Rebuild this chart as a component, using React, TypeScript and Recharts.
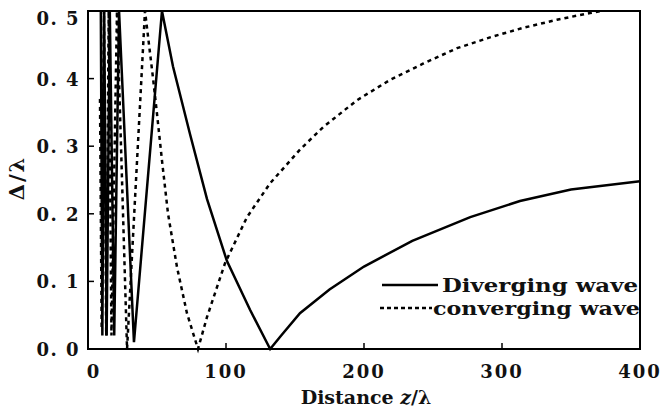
import { LineChart, Line, XAxis, YAxis, ReferenceArea, Legend } from 'recharts';

// diverging wave (solid)
const divZ = [9.3, 10.4, 11.7, 13.5, 15.8, 19.0, 22.5, 33.3, 53.6, 61.6, 73.9, 86.2, 100.7, 117.4, 132, 140, 153.6, 175, 200, 235, 277, 313, 350, 400];
const divD = [0.5, 0.02, 0.5, 0.02, 0.5, 0.02, 0.5, 0.01, 0.5, 0.418, 0.318, 0.222, 0.13, 0.058, 0, 0.02, 0.053, 0.088, 0.122, 0.16, 0.195, 0.219, 0.236, 0.248];

// converging wave (dashed)
const conZ = [8.7, 9.9, 11.6, 13.2, 15.0, 17.0, 21.0, 28.3, 41.3, 47.1, 50, 53.6, 58, 64.5, 71.7, 79.7, 86.2, 99.3, 115.2, 131.9, 153.6, 170.3, 194.9, 218.8, 242.7, 267.4, 291.3, 315.2, 339.8, 363.7, 372.4];
const conD = [0.37, 0.03, 0.5, 0.02, 0.5, 0.02, 0.5, 0, 0.5, 0.401, 0.348, 0.279, 0.2, 0.121, 0.053, 0, 0.047, 0.127, 0.195, 0.245, 0.295, 0.328, 0.368, 0.398, 0.422, 0.445, 0.461, 0.475, 0.487, 0.497, 0.5];

const xTicks = [0, 100, 200, 300, 400];
const yTicks = [0, 0.1, 0.2, 0.3, 0.4, 0.5];

const diverging = divZ.map((z, i) => ({ z, d: divD[i] }));
const converging = conZ.map((z, i) => ({ z, d: conD[i] }));

const font = 'DejaVu Serif';

const XTick = ({ x, payload }: any) => (
  <g>
    {payload.value > 0 && payload.value < 400 && <line x1={x} x2={x} y1={349} y2={343} stroke="#000" strokeWidth={1.5} />}
    <text x={x + (payload.value === 0 ? 6 : 0)} y={378} textAnchor="middle" fontFamily={font} fontWeight="bold" fontSize={18} letterSpacing={2} fill="#111">
      {payload.value}
    </text>
  </g>
);

const YTick = ({ y, payload }: any) => (
  <g>
    {payload.value > 0 && payload.value < 0.5 && <line x1={88} x2={94} y1={y} y2={y} stroke="#000" strokeWidth={1.5} />}
    <text x={80} y={y + 7 + (payload.value === 0.5 ? 7 : 0)} textAnchor="end" fontFamily={font} fontWeight="bold" fontSize={18} letterSpacing={1.5} fill="#111">
      {payload.value.toFixed(1).replace('.', '. ')}
    </text>
  </g>
);

const LegendBox = () => (
  <svg width={262} height={60} style={{ display: 'block', overflow: 'hidden' }}>
    <line x1={4} x2={60} y1={17} y2={17} stroke="#000" strokeWidth={2.5} />
    <text x={64} y={24} fontFamily={font} fontWeight="bold" fontSize={19} textLength={196} lengthAdjust="spacingAndGlyphs" fill="#111">Diverging wave</text>
    <line x1={2} x2={54} y1={40} y2={40} stroke="#000" strokeWidth={2.5} strokeDasharray="4 3" />
    <text x={55} y={47} fontFamily={font} fontWeight="bold" fontSize={19} textLength={207} lengthAdjust="spacingAndGlyphs" fill="#111">converging wave</text>
  </svg>
);

export default function App() {
  return (
    <div style={{ position: 'absolute', left: 0, top: 0, width: 665, height: 412, background: '#fff' }}>
      <LineChart width={665} height={412} margin={{ top: 11, right: 25, left: 0, bottom: 0 }}>
        <XAxis
          dataKey="z"
          type="number"
          domain={[0, 400]}
          ticks={xTicks}
          allowDuplicatedCategory={false}
          height={63}
          axisLine={{ stroke: '#000', strokeWidth: 2 }}
          tickLine={false}
          tick={<XTick />}
          label={{
            content: () => (
              <text x={366} y={404} textAnchor="middle" fontFamily={font} fontWeight="bold" fontSize={19} fill="#111">
                Distance <tspan fontStyle="italic">z</tspan>/λ
              </text>
            ),
          }}
        />
        <YAxis
          type="number"
          domain={[0, 0.5]}
          ticks={yTicks}
          width={88}
          axisLine={{ stroke: '#000', strokeWidth: 2 }}
          tickLine={false}
          tick={<YTick />}
          label={{
            content: () => (
              <text x={24} y={178} transform="rotate(-90 24 178)" textAnchor="middle" fontFamily={font} fontWeight="bold" fontSize={21} letterSpacing={2} fill="#111">
                Δ/λ
              </text>
            ),
          }}
        />
        <ReferenceArea x1={0} x2={400} y1={0} y2={0.5} fill="none" stroke="#000" strokeWidth={2} />
        <Line data={diverging} dataKey="d" type="linear" stroke="#000" strokeWidth={2.5} dot={false} isAnimationActive={false} />
        <Line data={converging} dataKey="d" type="linear" stroke="#000" strokeWidth={2.5} strokeDasharray="4 4" dot={false} isAnimationActive={false} />
        <Legend
          layout="horizontal"
          verticalAlign="middle"
          align="center"
          wrapperStyle={{ position: 'absolute', left: 378, top: 268, width: 262, height: 60 }}
          content={() => <LegendBox />}
        />
      </LineChart>
    </div>
  );
}
